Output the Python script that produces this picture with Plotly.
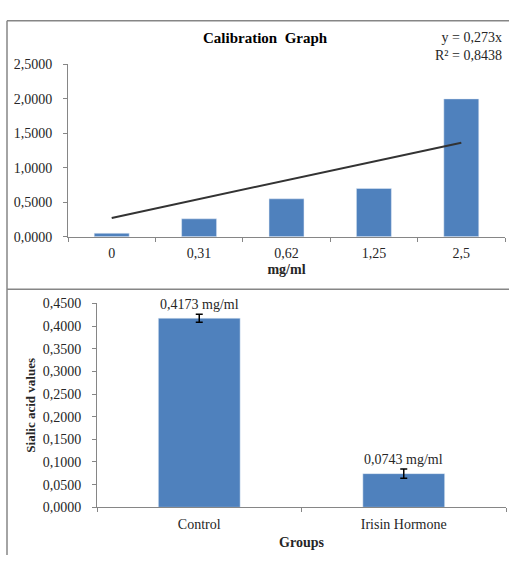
import plotly.graph_objects as go

W, H = 509, 563

# ---- data ----
calib_categories = ["0", "0,31", "0,62", "1,25", "2,5"]
calib_values = [0.05, 0.26, 0.55, 0.70, 2.00]
trend_slope = 0.273
trend_values = [trend_slope * (i + 1) for i in range(len(calib_categories))]

group_categories = ["Control", "Irisin Hormone"]
group_values = [0.4173, 0.0743]
group_errors = [0.009, 0.010]
group_labels = ["0,4173 mg/ml", "0,0743 mg/ml"]

BAR = "#4F81BD"
AX = "#868686"
FONT = "Liberation Serif"
TXT = "#262626"

def px_x(x):
    return x / W

def px_y(y):
    return 1 - y / H

fig = go.Figure()

fig.add_trace(go.Bar(x=calib_categories, y=calib_values, marker_color=BAR,
                     width=0.4, xaxis="x", yaxis="y", showlegend=False))
fig.add_trace(go.Scatter(x=calib_categories, y=trend_values, mode="lines",
                         line=dict(color="#333333", width=2), xaxis="x", yaxis="y",
                         showlegend=False))

fig.add_trace(go.Bar(x=group_categories, y=group_values, marker_color=BAR,
                     width=0.4, xaxis="x2", yaxis="y2", showlegend=False,
                     error_y=dict(type="data", array=group_errors, color="black",
                                  thickness=1.5, width=3.5)))

axis_common = dict(showline=True, linecolor=AX, linewidth=1, ticks="outside",
                   tickcolor=AX, ticklen=4, showgrid=False, zeroline=False,
                   tickfont=dict(family=FONT, size=14, color=TXT))

label_annotations = [
    dict(text=lab, x=c, y=v + e, xref="x2", yref="y2", xanchor="center", yanchor="bottom",
         yshift=0, showarrow=False, font=dict(family=FONT, size=14, color=TXT))
    for c, v, e, lab in zip(group_categories, group_values, group_errors, group_labels)
]

fig.update_layout(
    width=W, height=H, margin=dict(l=0, r=0, t=0, b=0),
    paper_bgcolor="white", plot_bgcolor="white",
    separators=",.",
    bargap=0.6,
    xaxis=dict(domain=[px_x(68), px_x(505)], anchor="y", type="category",
               range=[-0.5, 4.5], tickson="boundaries", ticklabelstandoff=3,
               title=dict(text="<b>mg/ml</b>", font=dict(family=FONT, size=14, color=TXT), standoff=4),
               **axis_common),
    yaxis=dict(domain=[px_y(236), px_y(59)], anchor="x", range=[0, 2.5],
               tickvals=[0, 0.5, 1, 1.5, 2, 2.5], tickformat=".4f", ticklabelstandoff=8,
               **axis_common),
    xaxis2=dict(domain=[px_x(97), px_x(506)], anchor="y2", type="category",
                range=[-0.5, 1.5], tickson="boundaries", ticklabelstandoff=4,
                title=dict(text="<b>Groups</b>", font=dict(family=FONT, size=14, color=TXT), standoff=6),
                **axis_common),
    yaxis2=dict(domain=[px_y(514), px_y(304.5)], anchor="x2", range=[0, 0.45],
                dtick=0.05, tickformat=".4f", ticklabelstandoff=8,
                title=dict(text="<b>Sialic acid values</b>", font=dict(family=FONT, size=13, color=TXT), standoff=4),
                **axis_common),
    annotations=[
        dict(text="<b>Calibration  Graph</b>", x=px_x(265), y=px_y(32), xref="paper", yref="paper",
             xanchor="center", yanchor="middle", showarrow=False,
             font=dict(family=FONT, size=15, color="black")),
        dict(text="y = 0,273x<br>R² = 0,8438", x=px_x(504), y=px_y(41), xref="paper", yref="paper",
             xanchor="right", yanchor="middle", align="right", showarrow=False,
             font=dict(family=FONT, size=14, color=TXT)),
    ] + label_annotations,
    shapes=[
        dict(type="line", xref="paper", yref="paper", x0=px_x(7), x1=1, y0=px_y(14), y1=px_y(14),
             line=dict(color=AX, width=1.5)),
        dict(type="line", xref="paper", yref="paper", x0=px_x(7), x1=px_x(7), y0=px_y(14), y1=0,
             line=dict(color=AX, width=1.5)),
        dict(type="line", xref="paper", yref="paper", x0=px_x(7), x1=1, y0=px_y(290), y1=px_y(290),
             line=dict(color=AX, width=1.5)),
    ],
)

fig.write_html("out.html", config={"displayModeBar": False},
               post_script="document.body.style.margin='0';document.body.style.overflow='hidden';")
